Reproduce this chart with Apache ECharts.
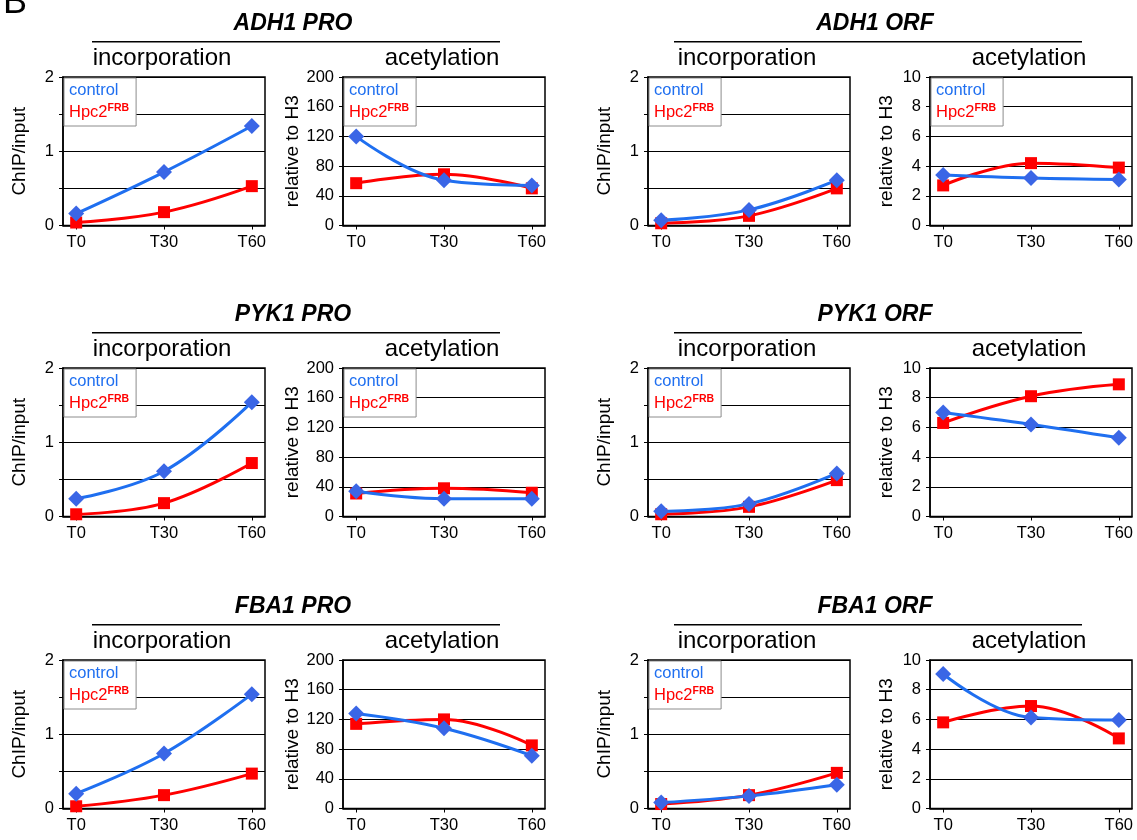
<!DOCTYPE html>
<html>
<head>
<meta charset="utf-8">
<script src="https://cdn.jsdelivr.net/npm/echarts@6/dist/echarts.min.js"></script>
<style>
html, body { margin: 0; padding: 0; background: #fff; }
#chart { width: 1137px; height: 840px; }
</style>
</head>
<body>
<div id="chart"></div>
<script>
"use strict";
var timeLabels = ["T0", "T30", "T60"];
var timePoints = [0, 30, 60];
var genes = ["ADH1", "PYK1", "FBA1"];
var regions = ["PRO", "ORF"];
var panelNames = ["incorporation", "acetylation"];

// ADH1
var adh1ProIncControl = [0.16, 0.72, 1.34];
var adh1ProIncHpc2 = [0.04, 0.18, 0.53];
var adh1ProAcControl = [120, 61, 54];
var adh1ProAcHpc2 = [57, 69, 50];
var adh1OrfIncControl = [0.07, 0.21, 0.61];
var adh1OrfIncHpc2 = [0.03, 0.13, 0.5];
var adh1OrfAcControl = [3.4, 3.2, 3.1];
var adh1OrfAcHpc2 = [2.7, 4.2, 3.9];
// PYK1
var pyk1ProIncControl = [0.24, 0.61, 1.54];
var pyk1ProIncHpc2 = [0.03, 0.18, 0.72];
var pyk1ProAcControl = [34, 24, 24];
var pyk1ProAcHpc2 = [31, 38, 32];
var pyk1OrfIncControl = [0.07, 0.17, 0.58];
var pyk1OrfIncHpc2 = [0.03, 0.13, 0.49];
var pyk1OrfAcControl = [7.0, 6.2, 5.3];
var pyk1OrfAcHpc2 = [6.3, 8.1, 8.9];
// FBA1
var fba1ProIncControl = [0.2, 0.74, 1.54];
var fba1ProIncHpc2 = [0.03, 0.18, 0.47];
var fba1ProAcControl = [128, 108, 71];
var fba1ProAcHpc2 = [114, 120, 85];
var fba1OrfIncControl = [0.08, 0.17, 0.32];
var fba1OrfIncHpc2 = [0.06, 0.18, 0.48];
var fba1OrfAcControl = [9.06, 6.13, 5.96];
var fba1OrfAcHpc2 = [5.8, 6.9, 4.72];

var incTickLabels = [0, 1, 2];

var FONT = "Liberation Sans, Arial, sans-serif";
var BLUE = "#1f6ff0", BLUE_MARK = "#3a66e6", RED = "#ff0000";

var incAxis = { max: 2, interval: 0.5, name: "ChIP/input" };
var proAcAxis = { max: 200, interval: 40, name: "relative to H3" };
var orfAcAxis = { max: 10, interval: 2, name: "relative to H3" };

// row, col, control, Hpc2, axis, legend
var panels = [
    [0, 0, adh1ProIncControl, adh1ProIncHpc2, incAxis, true],
    [0, 1, adh1ProAcControl, adh1ProAcHpc2, proAcAxis, true],
    [0, 2, adh1OrfIncControl, adh1OrfIncHpc2, incAxis, true],
    [0, 3, adh1OrfAcControl, adh1OrfAcHpc2, orfAcAxis, true],
    [1, 0, pyk1ProIncControl, pyk1ProIncHpc2, incAxis, true],
    [1, 1, pyk1ProAcControl, pyk1ProAcHpc2, proAcAxis, true],
    [1, 2, pyk1OrfIncControl, pyk1OrfIncHpc2, incAxis, true],
    [1, 3, pyk1OrfAcControl, pyk1OrfAcHpc2, orfAcAxis, false],
    [2, 0, fba1ProIncControl, fba1ProIncHpc2, incAxis, true],
    [2, 1, fba1ProAcControl, fba1ProAcHpc2, proAcAxis, false],
    [2, 2, fba1OrfIncControl, fba1OrfIncHpc2, incAxis, true],
    [2, 3, fba1OrfAcControl, fba1OrfAcHpc2, orfAcAxis, false]
];

var colLeft = [63, 343, 648, 930];
var rowTop = [77, 368, 660];
var plotW = 202, plotH = 148.5;

var grids = [], xAxes = [], yAxes = [], series = [], legends = [], graphics = [];

function toPoints(vals) {
    return timePoints.map(function (t, k) { return [t, vals[k]]; });
}

panels.forEach(function (p, i) {
    var left = colLeft[p[1]], top = rowTop[p[0]], ax = p[4];
    grids.push({
        left: left, top: top, width: plotW, height: plotH,
        show: true, borderColor: "#000", borderWidth: 1.5, backgroundColor: "transparent"
    });
    xAxes.push({
        gridIndex: i, type: "value", min: -4.5, max: 64.5,
        axisLine: { show: true, onZero: false, lineStyle: { color: "#000", width: 1.5 } },
        axisTick: { show: true, customValues: timePoints, length: 4, lineStyle: { color: "#000" } },
        axisLabel: {
            customValues: timePoints, color: "#000", fontSize: 16.5, fontFamily: FONT, margin: 8,
            formatter: function (v) { return timeLabels[timePoints.indexOf(v)]; }
        },
        splitLine: { show: false }
    });
    yAxes.push({
        gridIndex: i, type: "value", min: 0, max: ax.max, interval: ax.interval,
        name: ax.name, nameLocation: "middle", nameGap: 34, nameRotate: 90,
        nameTextStyle: { fontSize: 19, color: "#000", fontFamily: FONT },
        axisLine: { show: true, onZero: false, lineStyle: { color: "#000", width: 1.5 } },
        axisTick: { show: true, length: 4, lineStyle: { color: "#000" } },
        axisLabel: {
            color: "#000", fontSize: 16.5, fontFamily: FONT, margin: 9,
            formatter: function (v) {
                if (ax === incAxis) return incTickLabels.indexOf(v) >= 0 ? String(v) : "";
                return String(v);
            }
        },
        splitLine: { show: true, lineStyle: { color: "#000", width: 1 } }
    });
    series.push({
        type: "line", name: "Hpc2", xAxisIndex: i, yAxisIndex: i, data: toPoints(p[3]),
        smooth: 0.4, symbol: "rect", symbolSize: 12,
        lineStyle: { color: RED, width: 3 }, itemStyle: { color: RED },
        emphasis: { disabled: true }, animation: false
    });
    series.push({
        type: "line", name: "control", xAxisIndex: i, yAxisIndex: i, data: toPoints(p[2]),
        smooth: 0.4, symbol: "diamond", symbolSize: 16,
        lineStyle: { color: BLUE, width: 3 }, itemStyle: { color: BLUE_MARK },
        emphasis: { disabled: true }, animation: false
    });
    if (p[5]) {
        legends.push({
            orient: "vertical", left: left + 1, top: top + 1, selectedMode: false,
            icon: "rect", itemWidth: 0, itemHeight: 0, itemGap: 4, padding: [3, 7, 5, 0],
            backgroundColor: "#fff", borderColor: "#8c8c8c", borderWidth: 1,
            data: [
                { name: "control", textStyle: { color: BLUE } },
                { name: "Hpc2", textStyle: { color: RED } }
            ],
            formatter: function (n) { return n === "Hpc2" ? "Hpc2{s|FRB}" : n; },
            textStyle: {
                fontSize: 16.5, fontFamily: FONT, lineHeight: 18,
                rich: { s: { fontSize: 10.5, fontWeight: "bold", color: RED, fontFamily: FONT, verticalAlign: "top", lineHeight: 12 } }
            }
        });
    }
    graphics.push({
        type: "text", x: left + plotW / 2 - 2, y: top - 18.5,
        style: { text: panelNames[p[1] % 2], fontSize: 24, fontFamily: FONT, fill: "#000", textAlign: "center", textVerticalAlign: "middle" }
    });
});

genes.forEach(function (g, r) {
    regions.forEach(function (reg, c) {
        var x0 = c === 0 ? 92 : 674;
        var dy = rowTop[r] - rowTop[0];
        graphics.push({
            type: "line", shape: { x1: x0, y1: 41.7 + dy, x2: x0 + 408, y2: 41.7 + dy },
            style: { stroke: "#000", lineWidth: 1.5 }
        });
        graphics.push({
            type: "text", x: x0 + 201, y: 24 + dy,
            style: { text: g + " " + reg, fontSize: 23, fontWeight: "bold", fontStyle: "italic", fontFamily: FONT, fill: "#000", textAlign: "center", textVerticalAlign: "middle" }
        });
    });
});

graphics.push({
    type: "text", x: 3, y: 21,
    style: { text: "B", fontSize: 36, fontFamily: FONT, fill: "#000", textAlign: "left", textVerticalAlign: "bottom" }
});

var chart = echarts.init(document.getElementById("chart"), null, { renderer: "canvas" });
chart.setOption({
    backgroundColor: "#fff",
    animation: false,
    grid: grids,
    xAxis: xAxes,
    yAxis: yAxes,
    legend: legends,
    series: series,
    graphic: graphics
});
</script>
</body>
</html>
